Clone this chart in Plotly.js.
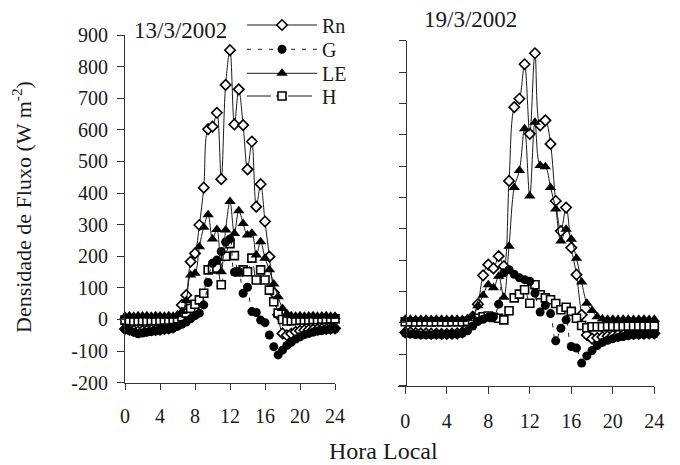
<!DOCTYPE html>
<html><head><meta charset="utf-8">
<script src="https://cdn.plot.ly/plotly-3.0.1.min.js"></script>
<style>html,body{margin:0;padding:0;background:#fff}#chart{width:680px;height:465px}</style>
</head><body><div id="chart"></div>
<script>
// Local time (h), half-hourly
const hours = [0,0.5,1,1.5,2,2.5,3,3.5,4,4.5,5,5.5,6,6.5,7,7.5,8,8.5,9,9.5,10,10.5,11,11.5,12,12.5,13,13.5,14,14.5,15,15.5,16,16.5,17,17.5,18,18.5,19,19.5,20,20.5,21,21.5,22,22.5,23,23.5,24];
const xTicks = [0,4,8,12,16,20,24];
const yTicks = [-200,-100,0,100,200,300,400,500,600,700,800,900];
const yTickLabels = ['-200','-100','0','100','200','300','400','500','600','700','800','900'];

// 13/3/2002
const rn13 = [-30,-32,-35,-38,-36,-35,-34,-33,-32,-30,-28,-25,-10,46,77,183,209,299,417,602,610,654,444,742,852,617,728,615,475,563,357,428,310,199,85,15,-44,-50,-45,-39,-36,-34,-33,-32,-31,-30,-30,-29,-28];
const g13  = [-30,-35,-40,-45,-43,-40,-38,-36,-34,-32,-30,-27,-22,-15,-8,2,12,20,46,117,178,188,215,245,255,150,152,83,102,25,22,-2,-10,-49,-86,-112,-97,-82,-72,-62,-55,-48,-44,-40,-37,-35,-33,-31,-30];
const le13 = [10,12,10,12,11,12,10,12,11,10,12,10,15,25,60,141,146,230,292,331,255,285,151,283,373,272,344,304,267,273,204,246,194,157,112,72,35,18,12,10,12,10,11,12,10,11,12,10,10];
const h13  = [-2,-3,-5,-5,-4,-5,-3,-4,-3,-2,-2,0,2,8,20,35,48,62,83,157,160,163,110,200,240,202,150,157,151,194,125,157,125,93,56,20,0,-5,-4,-3,-2,-2,-1,0,0,1,1,2,2];

// 19/3/2002
const rn19 = [-30,-30,-32,-33,-33,-34,-34,-35,-35,-34,-33,-30,-15,20,60,152,186,174,213,181,453,688,715,825,603,860,630,646,571,389,293,368,240,154,26,-38,-50,-48,-45,-42,-40,-38,-37,-36,-35,-35,-34,-33,-33];
const g19  = [-32,-35,-37,-38,-38,-38,-37,-37,-36,-36,-35,-33,-25,-10,5,12,18,20,60,160,170,155,144,138,133,95,35,56,30,-57,-17,10,-75,-80,-128,-105,-88,-72,-62,-55,-50,-46,-43,-40,-38,-37,-36,-35,-35];
const le19 = [12,12,11,12,12,11,12,12,11,12,12,11,14,20,55,88,122,112,149,82,245,432,486,619,405,640,502,498,432,363,261,299,267,206,131,63,40,20,13,12,12,11,12,12,11,12,12,11,12];
const h19  = [4,4,3,4,4,3,4,4,3,4,4,4,5,8,15,20,22,18,15,10,39,80,92,106,63,122,90,80,74,62,42,50,37,15,-8,-15,-12,-12,-12,-11,-11,-11,-11,-10,-10,-10,-10,-10,-10];

const seriesNames = ['Rn','G','LE','H'];
const drawOrder = ['Rn','H','G','LE'];
const legendOf = {Rn:'legend', G:'legend2', LE:'legend3', H:'legend4'};
const legendRowsY = {legend:25, legend2:49.3, legend3:73.3, legend4:96};

const W = 680, H = 465;
const fx = v => v / W;
const fy = v => 1 - v / H;
const FONT = 'Liberation Serif';
const INK = '#1a1a1a';

const styles = {
  Rn: {line:{color:INK,width:1,dash:'solid',shape:'spline',smoothing:1}, marker:{symbol:'diamond',size:8,color:'#fff',line:{color:'#000',width:1.6}}},
  G:  {line:{color:INK,width:1,dash:'4px,7px',shape:'spline',smoothing:1}, marker:{symbol:'circle',size:9,color:'#000',line:{width:0}}},
  LE: {line:{color:INK,width:1,dash:'solid',shape:'spline',smoothing:1}, marker:{symbol:'triangle-up',size:10,color:'#000',line:{width:0}}},
  H:  {line:{color:INK,width:1,dash:'24px,5px,4px,8px',shape:'spline',smoothing:1}, marker:{symbol:'square',size:8,color:'#fff',line:{color:'#000',width:1.6}}}
};

const day1 = {Rn:rn13, G:g13, LE:le13, H:h13};
const day2 = {Rn:rn19, G:g19, LE:le19, H:h19};

const traces = [];
drawOrder.forEach(n => traces.push(Object.assign({
  type:'scatter', mode:'lines+markers', x:hours, y:day1[n], name:n, xaxis:'x', yaxis:'y',
  showlegend:true, legend:legendOf[n], cliponaxis:false
}, JSON.parse(JSON.stringify(styles[n])))));
drawOrder.forEach(n => traces.push(Object.assign({
  type:'scatter', mode:'lines+markers', x:hours, y:day2[n], name:n, xaxis:'x2', yaxis:'y2', showlegend:false, cliponaxis:false
}, JSON.parse(JSON.stringify(styles[n])))));

const axBase = () => ({showgrid:false, zeroline:false, showline:true, linecolor:'#333', linewidth:1,
  ticks:'outside', tickcolor:'#333', tickwidth:1, tickfont:{family:FONT, size:20, color:INK}});

const layout = {
  width:W, height:H, margin:{l:0,r:0,t:0,b:0}, paper_bgcolor:'#fff', plot_bgcolor:'rgba(0,0,0,0)',
  font:{family:FONT, color:INK},
  showlegend:true,
  xaxis: Object.assign(axBase(), {domain:[fx(125), fx(335)], range:[0,24], tickmode:'array', tickvals:xTicks, ticklen:6, anchor:'y', ticklabelstandoff:9}),
  yaxis: Object.assign(axBase(), {domain:[fy(382.7), fy(35)], range:[-200,900], tickmode:'array', tickvals:yTicks, ticktext:yTickLabels, ticklen:7, anchor:'x', ticklabelstandoff:5}),
  xaxis2: Object.assign(axBase(), {domain:[fx(398), fx(654.3)], range:[-0.7,24], tickmode:'array', tickvals:xTicks, ticklen:7, anchor:'y2', ticklabelstandoff:10}),
  yaxis2: Object.assign(axBase(), {domain:[fy(385.7), fy(40.7)], range:[-200,900], tickmode:'array', tickvals:yTicks, ticklen:7, anchor:'free', position:fx(405.5), showticklabels:false}),
  annotations:[
    {text:'13/3/2002', x:fx(180), y:fy(31), xanchor:'center', yanchor:'middle', xref:'paper', yref:'paper', showarrow:false, font:{family:FONT,size:23,color:INK}},
    {text:'19/3/2002', x:fx(470), y:fy(19), xanchor:'center', yanchor:'middle', xref:'paper', yref:'paper', showarrow:false, font:{family:FONT,size:23,color:INK}},
    {text:'Hora Local', x:fx(383), y:fy(451), xanchor:'center', yanchor:'middle', xref:'paper', yref:'paper', showarrow:false, font:{family:FONT,size:24,color:INK}},
    {text:'Densidade de Fluxo (W m<sup>-2</sup>)', x:fx(22), y:fy(207), xanchor:'center', yanchor:'middle', xref:'paper', yref:'paper', showarrow:false, textangle:-90, font:{family:FONT,size:22,color:INK}}
  ]
};
seriesNames.forEach(n => {
  const id = legendOf[n];
  layout[id] = {x:fx(242), y:fy(legendRowsY[id]), xanchor:'left', yanchor:'middle', bgcolor:'rgba(0,0,0,0)',
    font:{family:FONT,size:20,color:INK}, itemwidth:70, borderwidth:0};
});

Plotly.newPlot('chart', traces, layout, {displayModeBar:false, staticPlot:true});
</script>
</body></html>
